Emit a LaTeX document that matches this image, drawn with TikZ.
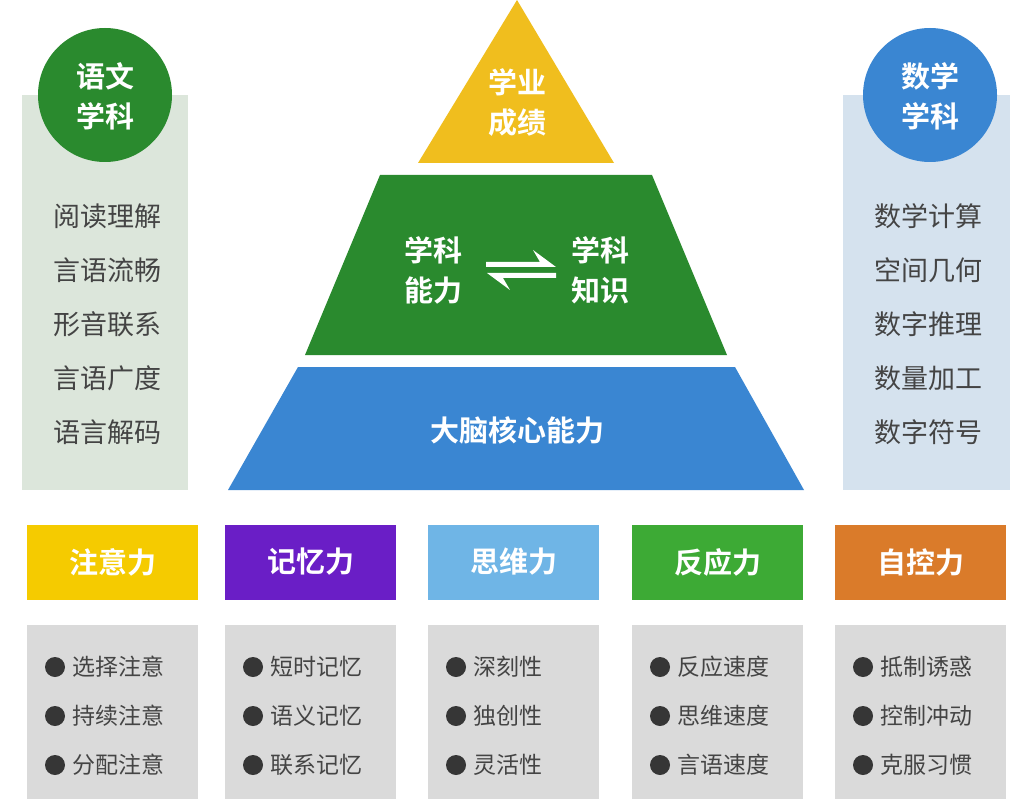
\documentclass[tikz,border=0pt]{standalone}
\usepackage{fontspec}
\newfontfamily\cjk{Noto Sans CJK SC}
\newfontfamily\cjkb{Noto Sans CJK SC Bold}
\definecolor{cyel}{HTML}{F0BE1E}
\definecolor{cgrn}{HTML}{2A8A2E}
\definecolor{cblu}{HTML}{3A86D2}
\definecolor{lgrn}{HTML}{DCE6DB}
\definecolor{lblu}{HTML}{D5E2EE}
\definecolor{b1}{HTML}{F5CB00}
\definecolor{b2}{HTML}{6A1EC6}
\definecolor{b3}{HTML}{6FB5E6}
\definecolor{b4}{HTML}{3DAA35}
\definecolor{b5}{HTML}{DA7B2A}
\definecolor{gbox}{HTML}{DADADA}
\definecolor{txt}{HTML}{444444}
\begin{document}
\begin{tikzpicture}[x=1pt,y=-1pt,
  wt/.style={text=white,font=\cjkb\fontsize{29}{40}\selectfont,align=center},
  lt/.style={text=txt,font=\cjk\fontsize{27}{30}\selectfont},
  bt/.style={text=txt,font=\cjk\fontsize{23}{26}\selectfont,anchor=west}]
\useasboundingbox (0,0) rectangle (1024,799);
\fill[white] (0,0) rectangle (1024,799);
% side panels
\fill[lgrn] (22,95) rectangle (188,490);
\fill[lblu] (843,95) rectangle (1010,490);
\fill[cgrn] (105,95) circle (67);
\fill[cblu] (930,95) circle (67);
\node[wt] (lc) at (105,96) {语文\\学科};
\node[wt] (rc) at (930,96) {数学\\学科};
\foreach \t [count=\i] in {阅读理解,言语流畅,形音联系,言语广度,语言解码}
  \node[lt] (l\i) at (107,162+54*\i) {\t};
\foreach \t [count=\i] in {数学计算,空间几何,数字推理,数量加工,数字符号}
  \node[lt] (r\i) at (928,162+54*\i) {\t};
% pyramid
\fill[cyel] (517,0) -- (614,163) -- (418,163) -- cycle;
\fill[cgrn] (380,175) -- (652,175) -- (727,355) -- (305,355) -- cycle;
\fill[cblu] (298,367) -- (735,367) -- (804,490) -- (228,490) -- cycle;
\node[wt] (p1) at (517,103) {学业\\成绩};
\node[wt] (p2) at (433,270) {学科\\能力};
\node[wt] (p3) at (600,270) {学科\\知识};
\node[wt] (p4) at (517,430) {大脑核心能力};
\fill[white] (486,262) -- (540,262) -- (533,250) -- (556,267) -- (486,267) -- cycle;
\fill[white] (556,273) -- (487,273) -- (510,290) -- (503,278) -- (556,278) -- cycle;
% bottom boxes
\foreach \x/\c/\t [count=\i] in {27/b1/注意力,225/b2/记忆力,428/b3/思维力,632/b4/反应力,835/b5/自控力}{
  \fill[\c] (\x,525) rectangle ++(171,75);
  \node[wt] (h\i) at (\x+85.5,562) {\t};
  \fill[gbox] (\x,625) rectangle ++(171,180);
}
\foreach \x/\a/\b/\c [count=\i] in {27/选择注意/持续注意/分配注意,225/短时记忆/语义记忆/联系记忆,428/深刻性/独创性/灵活性,632/反应速度/思维速度/言语速度,835/抵制诱惑/控制冲动/克服习惯}{
  \foreach \t [count=\j] in {\a,\b,\c}{
    \fill[txt!80!black] (\x+28,618+49*\j) circle (10);
    \node[bt] (i\i\j) at (\x+42,618+49*\j) {\t};
  }
}
\end{tikzpicture}
\end{document}
